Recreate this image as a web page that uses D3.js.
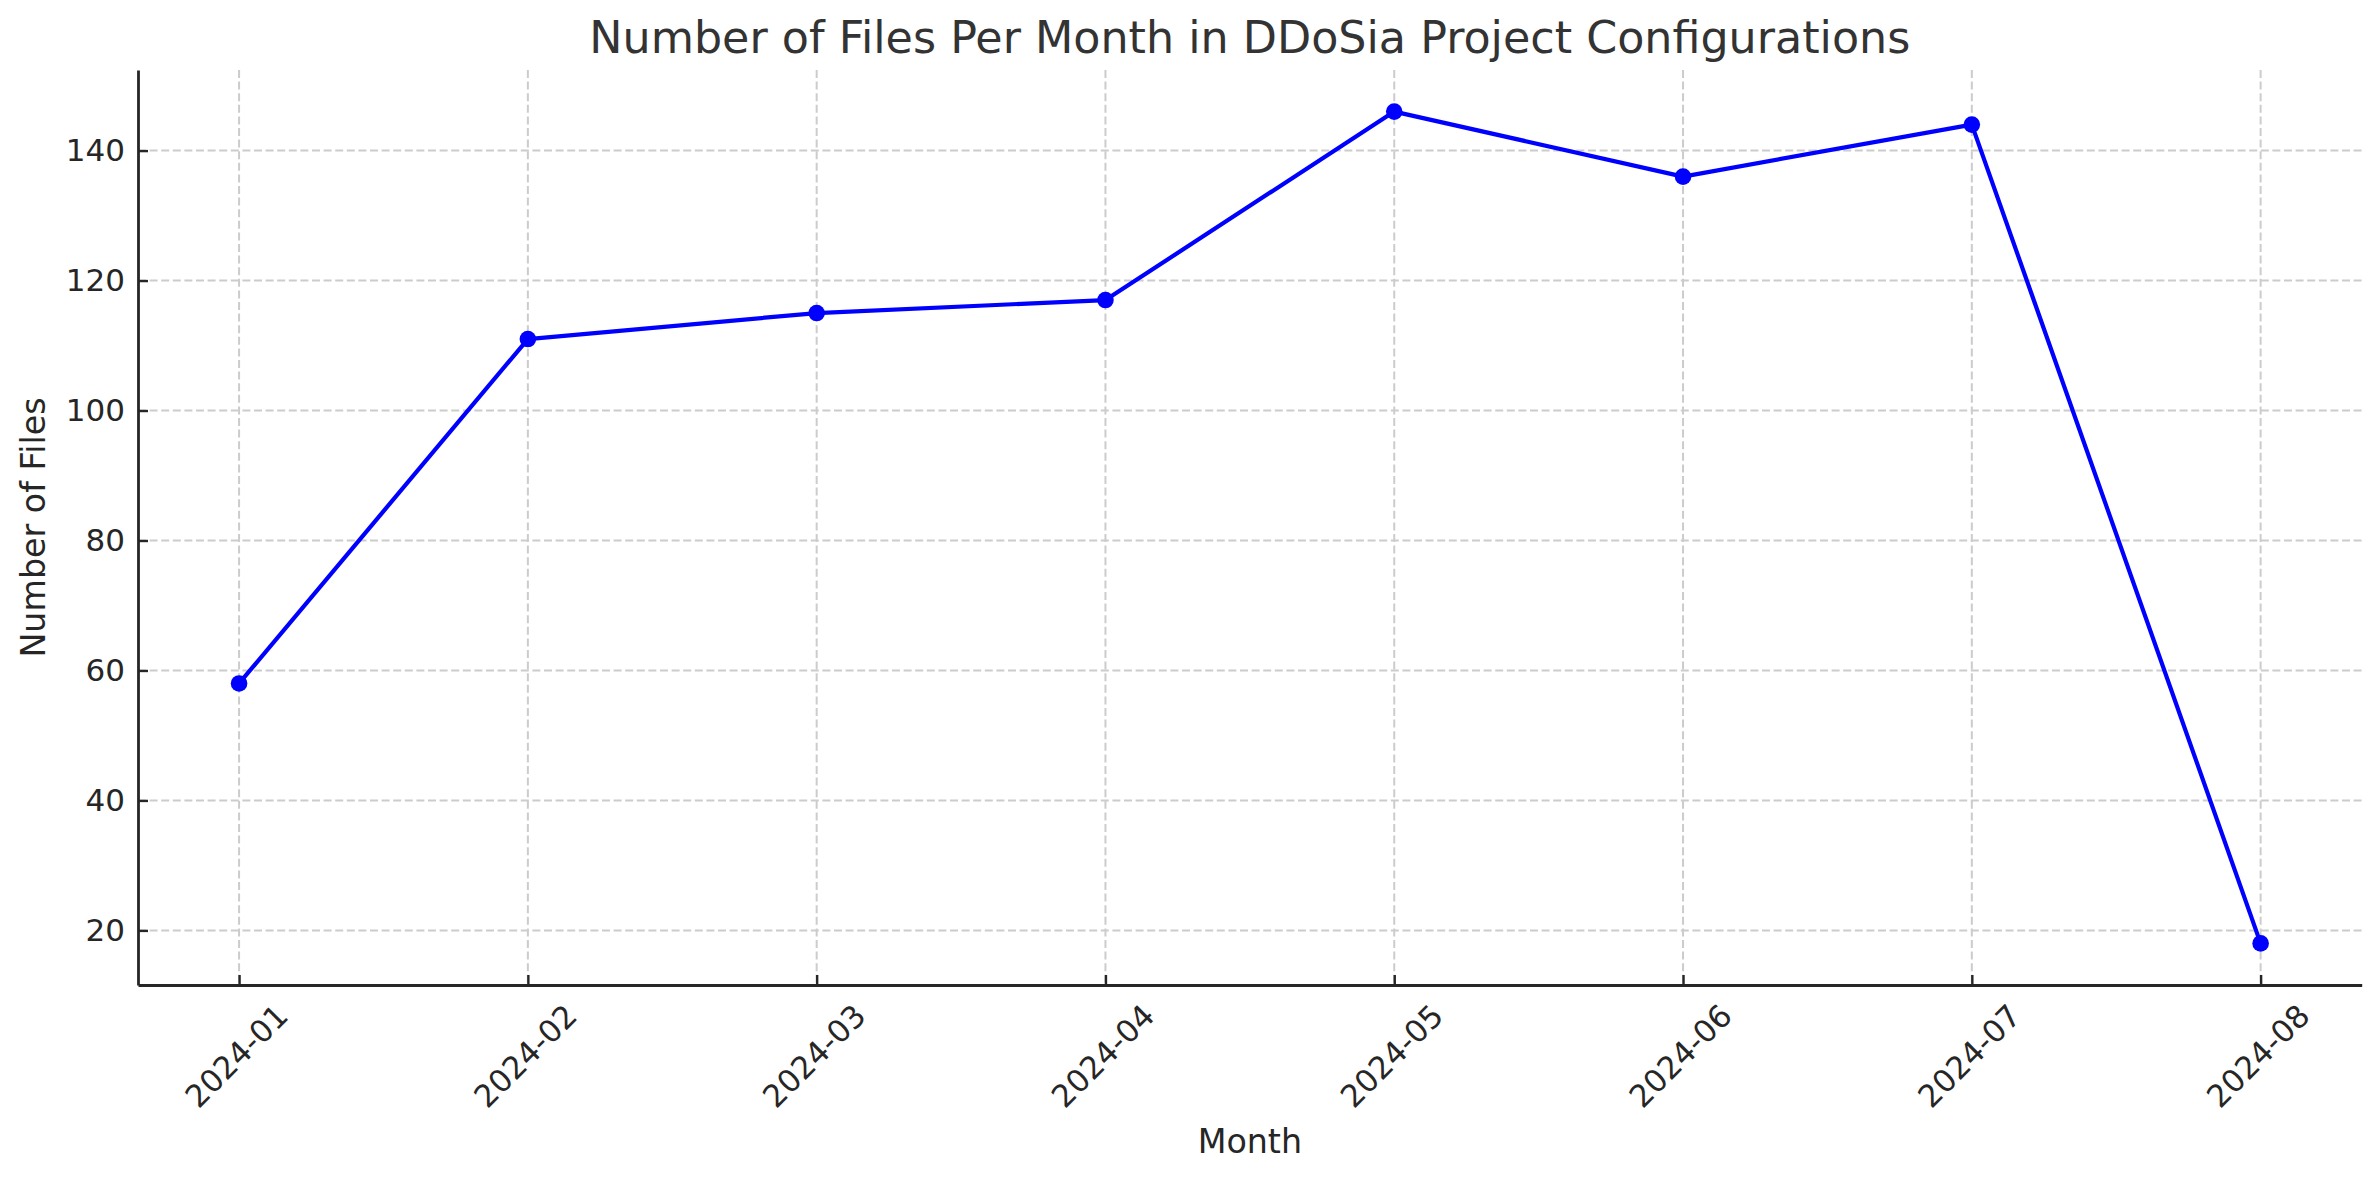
<!DOCTYPE html>
<html>
<head>
<meta charset="utf-8">
<script src="https://cdn.jsdelivr.net/npm/d3@7"></script>
<style>
  body { margin: 0; background: #fff; }
  text { font-family: "DejaVu Sans", sans-serif; }
</style>
</head>
<body>
<div id="chart"></div>
<script>
// Data
const months = ["2024-01", "2024-02", "2024-03", "2024-04", "2024-05", "2024-06", "2024-07", "2024-08"];
const fileCounts = [58, 111, 115, 117, 146, 136, 144, 18];
const yTicks = [20, 40, 60, 80, 100, 120, 140];

const width = 2379;
const height = 1180;
const plot = { left: 138, right: 2361.7, top: 70, bottom: 985 };

const svg = d3.select("#chart")
    .append("svg")
    .attr("width", width)
    .attr("height", height);

// Scales (matplotlib style 5% margins)
const x = d3.scalePoint()
    .domain(months)
    .range([plot.left, plot.right])
    .padding(0.35);

const yMin = d3.min(fileCounts), yMax = d3.max(fileCounts);
const pad = (yMax - yMin) * 0.05;
const y = d3.scaleLinear()
    .domain([yMin - pad, yMax + pad])
    .range([plot.bottom, plot.top]);

// Grid
const grid = svg.append("g")
    .attr("stroke", "#cccccc")
    .attr("stroke-width", 2)
    .attr("stroke-dasharray", "8,3.6");

grid.selectAll(".vgrid")
    .data(months)
    .enter()
    .append("line")
    .attr("x1", d => x(d))
    .attr("x2", d => x(d))
    .attr("y1", plot.top)
    .attr("y2", plot.bottom);

grid.selectAll(".hgrid")
    .data(yTicks)
    .enter()
    .append("line")
    .attr("x1", plot.left)
    .attr("x2", plot.right)
    .attr("y1", d => y(d))
    .attr("y2", d => y(d));

// Line + markers
const line = d3.line()
    .x((d, i) => x(months[i]))
    .y(d => y(d));

svg.append("path")
    .datum(fileCounts)
    .attr("fill", "none")
    .attr("stroke", "#0000ff")
    .attr("stroke-width", 4.2)
    .attr("stroke-linejoin", "round")
    .attr("d", line);

svg.selectAll(".dot")
    .data(fileCounts)
    .enter()
    .append("circle")
    .attr("class", "dot")
    .attr("cx", (d, i) => x(months[i]))
    .attr("cy", d => y(d))
    .attr("r", 8.3)
    .attr("fill", "#0000ff");

// Axes
const xAxis = svg.append("g")
    .attr("transform", `translate(0,${plot.bottom})`)
    .call(d3.axisBottom(x).tickSizeInner(-10).tickSizeOuter(0));

xAxis.selectAll("text")
    .attr("y", null)
    .attr("dy", "0.35em")
    .attr("text-anchor", "middle")
    .attr("transform", "translate(-3,71) rotate(-45)");

const yAxis = svg.append("g")
    .attr("transform", `translate(${plot.left},0)`)
    .call(d3.axisLeft(y).tickValues(yTicks).tickSizeInner(-10).tickSizeOuter(0).tickPadding(13));

[xAxis, yAxis].forEach(ax => {
    ax.select(".domain").attr("stroke", "#262626").attr("stroke-width", 2.8);
    ax.selectAll(".tick line").attr("stroke", "#262626").attr("stroke-width", 2.4);
    ax.selectAll("text")
        .attr("fill", "#262626")
        .style("font-size", "31px")
        .style("font-family", "DejaVu Sans");
});

// Titles
svg.append("text")
    .attr("x", (plot.left + plot.right) / 2)
    .attr("y", 53)
    .attr("text-anchor", "middle")
    .attr("fill", "#333333")
    .style("font-size", "44.4px")
    .text("Number of Files Per Month in DDoSia Project Configurations");

svg.append("text")
    .attr("x", (plot.left + plot.right) / 2)
    .attr("y", 1152.5)
    .attr("text-anchor", "middle")
    .attr("fill", "#262626")
    .style("font-size", "33.3px")
    .text("Month");

svg.append("text")
    .attr("text-anchor", "middle")
    .attr("transform", `translate(45,${(plot.top + plot.bottom) / 2}) rotate(-90)`)
    .attr("fill", "#262626")
    .style("font-size", "33.3px")
    .text("Number of Files");
</script>
</body>
</html>
